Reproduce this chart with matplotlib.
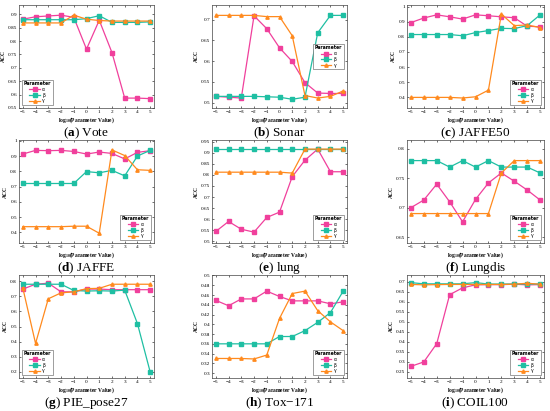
import matplotlib
matplotlib.use("Agg")
import matplotlib.pyplot as plt
import numpy as np

plt.rcParams["mathtext.fontset"] = "custom"
plt.rcParams["mathtext.rm"] = "Liberation Serif"
plt.rcParams["mathtext.it"] = "Liberation Serif:italic"
plt.rcParams["mathtext.bf"] = "Liberation Serif:bold"

x_vals = [-5, -4, -3, -2, -1, 0, 1, 2, 3, 4, 5]
series_names = ["α", "β", "γ"]

titles = [("a", "Vote"), ("b", "Sonar"), ("c", "JAFFE50"),
          ("d", "JAFFE"), ("e", "lung"), ("f", "Lungdis"),
          ("g", "PIE_pose27"), ("h", "Tox\u2212171"), ("i", "COIL100")]

vote_alpha = [0.882, 0.891, 0.894, 0.897, 0.889, 0.770, 0.878, 0.757, 0.587, 0.587, 0.585]
vote_beta = [0.880, 0.880, 0.880, 0.880, 0.880, 0.884, 0.895, 0.870, 0.870, 0.870, 0.872]
vote_gamma = [0.868, 0.868, 0.868, 0.868, 0.897, 0.882, 0.877, 0.875, 0.875, 0.875, 0.875]

sonar_alpha = [0.515, 0.513, 0.511, 0.709, 0.678, 0.632, 0.599, 0.548, 0.523, 0.522, 0.522]
sonar_beta = [0.515, 0.515, 0.515, 0.515, 0.514, 0.513, 0.508, 0.513, 0.668, 0.710, 0.710]
sonar_gamma = [0.710, 0.710, 0.710, 0.710, 0.707, 0.707, 0.661, 0.517, 0.511, 0.515, 0.528]

jaffe50_alpha = [0.894, 0.924, 0.945, 0.932, 0.917, 0.945, 0.939, 0.932, 0.926, 0.870, 0.866]
jaffe50_beta = [0.815, 0.815, 0.815, 0.815, 0.807, 0.828, 0.841, 0.856, 0.854, 0.874, 0.945]
jaffe50_gamma = [0.400, 0.400, 0.400, 0.400, 0.396, 0.404, 0.448, 0.950, 0.874, 0.878, 0.861]

jaffe_alpha = [0.913, 0.937, 0.935, 0.937, 0.930, 0.913, 0.926, 0.917, 0.881, 0.924, 0.935]
jaffe_beta = [0.720, 0.720, 0.720, 0.720, 0.720, 0.798, 0.790, 0.806, 0.770, 0.900, 0.937]
jaffe_gamma = [0.437, 0.437, 0.437, 0.437, 0.440, 0.440, 0.394, 0.940, 0.903, 0.810, 0.806]

lung_alpha = [0.545, 0.590, 0.555, 0.542, 0.608, 0.632, 0.792, 0.866, 0.916, 0.814, 0.814]
lung_beta = [0.916, 0.916, 0.916, 0.916, 0.916, 0.916, 0.916, 0.916, 0.916, 0.916, 0.916]
lung_gamma = [0.812, 0.812, 0.812, 0.812, 0.812, 0.812, 0.808, 0.916, 0.916, 0.916, 0.916]

lungdis_alpha = [0.700, 0.713, 0.740, 0.710, 0.676, 0.714, 0.742, 0.759, 0.745, 0.730, 0.713]
lungdis_beta = [0.780, 0.780, 0.780, 0.769, 0.780, 0.769, 0.780, 0.769, 0.769, 0.769, 0.759]
lungdis_gamma = [0.690, 0.690, 0.690, 0.690, 0.690, 0.690, 0.690, 0.759, 0.780, 0.780, 0.780]

pie_alpha = [0.747, 0.779, 0.786, 0.729, 0.729, 0.747, 0.747, 0.743, 0.743, 0.743, 0.743]
pie_beta = [0.779, 0.779, 0.779, 0.779, 0.738, 0.734, 0.736, 0.734, 0.740, 0.519, 0.200]
pie_gamma = [0.754, 0.388, 0.683, 0.722, 0.729, 0.750, 0.752, 0.779, 0.779, 0.779, 0.779]

tox_alpha = [0.449, 0.438, 0.452, 0.452, 0.468, 0.457, 0.448, 0.448, 0.448, 0.442, 0.446]
tox_beta = [0.360, 0.360, 0.360, 0.360, 0.360, 0.375, 0.375, 0.387, 0.404, 0.424, 0.468]
tox_gamma = [0.330, 0.330, 0.330, 0.329, 0.337, 0.412, 0.463, 0.468, 0.428, 0.405, 0.387]

coil_alpha = [0.278, 0.300, 0.391, 0.635, 0.669, 0.684, 0.685, 0.685, 0.687, 0.684, 0.685]
coil_beta = [0.695, 0.689, 0.689, 0.689, 0.689, 0.695, 0.688, 0.688, 0.688, 0.688, 0.688]
coil_gamma = [0.686, 0.684, 0.685, 0.686, 0.686, 0.686, 0.686, 0.686, 0.687, 0.692, 0.687]

datasets = [
    (vote_alpha, vote_beta, vote_gamma),
    (sonar_alpha, sonar_beta, sonar_gamma),
    (jaffe50_alpha, jaffe50_beta, jaffe50_gamma),
    (jaffe_alpha, jaffe_beta, jaffe_gamma),
    (lung_alpha, lung_beta, lung_gamma),
    (lungdis_alpha, lungdis_beta, lungdis_gamma),
    (pie_alpha, pie_beta, pie_gamma),
    (tox_alpha, tox_beta, tox_gamma),
    (coil_alpha, coil_beta, coil_gamma),
]

yticks = [
    [0.55, 0.6, 0.65, 0.7, 0.75, 0.8, 0.85, 0.9],
    [0.5, 0.55, 0.6, 0.65, 0.7],
    [0.4, 0.5, 0.6, 0.7, 0.8, 0.9, 1.0],
    [0.4, 0.5, 0.6, 0.7, 0.8, 0.9, 1.0],
    [0.5, 0.55, 0.6, 0.65, 0.7, 0.75, 0.8, 0.85, 0.9, 0.95],
    [0.65, 0.7, 0.75, 0.8],
    [0.2, 0.3, 0.4, 0.5, 0.6, 0.7, 0.8],
    [0.3, 0.32, 0.34, 0.36, 0.38, 0.4, 0.42, 0.44, 0.46, 0.48, 0.5],
    [0.25, 0.3, 0.35, 0.4, 0.45, 0.5, 0.55, 0.6, 0.65, 0.7],
]
ylims = [(0.55, 0.935), (0.487, 0.735), (0.33, 1.01), (0.33, 1.005),
         (0.493, 0.957), (0.64, 0.815), (0.16, 0.84), (0.29, 0.501), (0.22, 0.733)]
legend_locs = ["lower left", "center right", "lower right", "lower right", "lower right",
               "lower right", "lower left", "lower right", "lower right"]

colors = ["#f0409c", "#1fbfa3", "#ff8a1e"]
markers = ["s", "s", "^"]

W, H = 550, 411
fig = plt.figure(figsize=(5.5, 4.11), dpi=100)
col_left = [19, 212, 407]
col_w = [135, 135, 137]
row_top = [5, 140, 275]
ax_h = 103

for i in range(9):
    r, c = divmod(i, 3)
    ax = fig.add_axes([col_left[c] / W, 1 - (row_top[r] + ax_h) / H, col_w[c] / W, ax_h / H])
    for k in range(3):
        ax.plot(x_vals, datasets[i][k], color=colors[k], marker=markers[k], markersize=2.4,
                linewidth=0.9, label=series_names[k])
    ax.set_xlim(-5.3, 5.3)
    ax.set_ylim(*ylims[i])
    ax.set_xticks(x_vals)
    ax.set_yticks(yticks[i])
    ax.set_yticklabels([f"{t:g}" for t in yticks[i]])
    ax.tick_params(labelsize=3.8, length=1.5, width=0.4, pad=1.5, direction="in",
                   top=True, right=True)
    for t in ax.get_xticklabels() + ax.get_yticklabels():
        t.set_fontfamily("Liberation Serif")
    for s in ax.spines.values():
        s.set_linewidth(0.5)
        s.set_color("#444444")
    ax.set_ylabel("ACC", fontsize=4.0, labelpad=1.5, family="Liberation Serif", fontweight="bold")
    ax.set_xlabel(r"$\mathbf{log_{10}}$(Parameter Value)", fontsize=4.0, labelpad=0.8,
                  family="Liberation Serif", fontweight="bold")
    leg = ax.legend(title="Parameter", loc=legend_locs[i], fontsize=3.3, title_fontsize=3.3,
                    handlelength=2.3, borderpad=0.4, labelspacing=0.15, handletextpad=0.5,
                    frameon=True, fancybox=False, edgecolor="#555555", framealpha=1,
                    borderaxespad=0.6)
    leg.get_frame().set_linewidth(0.4)
    leg.get_title().set_fontweight("bold")
    letter, name = titles[i]
    cx = (col_left[c] + col_w[c] / 2) / W
    cy = 1 - (row_top[r] + ax_h + 25) / H
    fig.text(cx, cy, "(" + r"$\mathbf{" + letter + "}$" + ") " + name,
             ha="center", va="center", fontsize=9.5, family="Liberation Serif")

fig.savefig("out.png", dpi=100)
